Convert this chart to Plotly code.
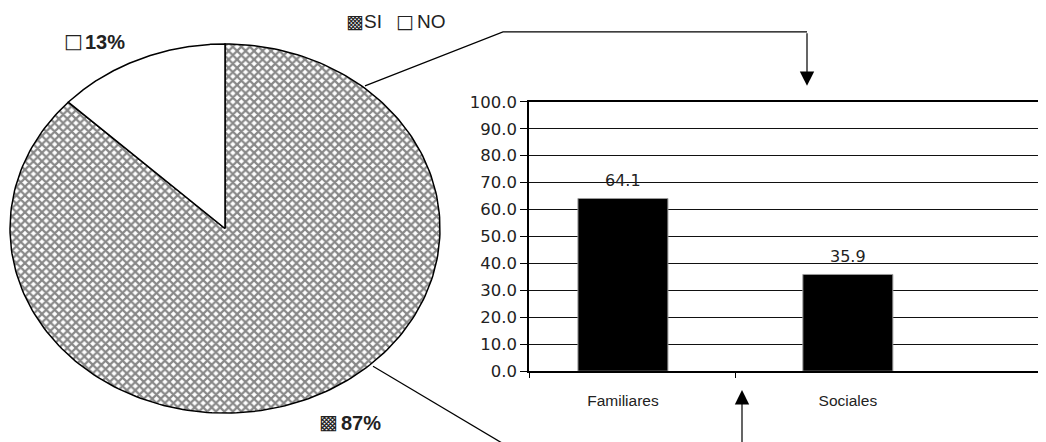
import numpy as np
import plotly.graph_objects as go

# ---- data ----
pie_labels = ["SI", "NO"]
pie_values = [87, 13]
bar_categories = ["Familiares", "Sociales"]
bar_values = [64.1, 35.9]
y_ticks = [0, 10, 20, 30, 40, 50, 60, 70, 80, 90, 100]

W, H = 1046, 442
# observed placement of the figure in the captured page
OX, OY, HH = 8, 17, 424
def px(x): return (x - OX) / W
def py(y): return 1 - (y - OY) / HH

fig = go.Figure()

# ---- elliptical pie drawn on a hidden screen-scaled axis ----
cx, cy, rx, ry = 225, 229, 215, 185
total = sum(pie_values)
starts = [0.0, pie_values[0] / total * 360]
fills = [dict(fillcolor="white",
              fillpattern=dict(shape="x", size=6, solidity=0.6,
                               fgcolor="#111", bgcolor="white")),
         dict(fillcolor="white")]
for i, (lab, v) in enumerate(zip(pie_labels, pie_values)):
    a0 = starts[i]
    a1 = a0 + v / total * 360
    th = np.radians(np.linspace(a0, a1, 240))
    xs = np.concatenate([[cx], cx + rx * np.sin(th), [cx]])
    ys = np.concatenate([[cy], cy - ry * np.cos(th), [cy]])
    fig.add_trace(go.Scatter(
        x=xs, y=-ys, mode="lines", fill="toself",
        line=dict(color="black", width=1.5),
        xaxis="x2", yaxis="y2", hoverinfo="skip", showlegend=False,
        **fills[i]))

# ---- bar chart ----
fig.add_trace(go.Bar(
    x=bar_categories, y=bar_values, width=0.4,
    marker=dict(color="black", line=dict(color="#999", width=1)),
    showlegend=False, xaxis="x", yaxis="y"))
fig.add_trace(go.Scatter(x=[0.5], y=[0], mode="markers", marker=dict(opacity=0),
                         xaxis="x3", yaxis="y", showlegend=False, hoverinfo="skip"))

xr = [-0.4176, 1.9165]
annotations = []
for c, v in zip(bar_categories, bar_values):
    annotations.append(dict(x=c, y=v, xref="x", yref="y", text=f"{v:.1f}",
                            showarrow=False, yanchor="bottom", yshift=6,
                            font=dict(family="DejaVu Sans", size=16, color="#222")))

lab_font = dict(family="Liberation Sans", size=20, color="#222")
icon_font = dict(family="DejaVu Sans", size=20, color="#222")
def txt(x, y, t, f):
    return dict(x=px(x), y=py(y), xref="paper", yref="paper", xanchor="left",
                yanchor="middle", text=t, showarrow=False, font=f)

annotations += [
    txt(62, 41, "□", icon_font),
    txt(83, 42, f"<b>{pie_values[1]}%</b>", lab_font),
    txt(317, 423, "▩", icon_font),
    txt(339, 424, f"<b>{pie_values[0]}%</b>", lab_font),
]
leg_font = dict(family="Liberation Sans", size=19, color="#222")
leg_icon = dict(family="DejaVu Sans", size=19, color="#222")
annotations += [
    txt(344, 21, "▩", leg_icon),
    txt(362, 22, pie_labels[0], leg_font),
    txt(394, 21, "□", leg_icon),
    txt(415, 22, pie_labels[1], leg_font),
]
annotations += [
    dict(x=px(807), y=py(86), xref="paper", yref="paper", ax=0, ay=-54, text="",
         showarrow=True, arrowhead=2, arrowsize=2.4, arrowwidth=1.2, arrowcolor="black",
         standoff=0),
    dict(x=px(742), y=py(391), xref="paper", yref="paper", ax=0, ay=70, text="",
         showarrow=True, arrowhead=2, arrowsize=2.4, arrowwidth=1.2, arrowcolor="black",
         standoff=0),
]

shapes = [
    dict(type="path", xref="paper", yref="paper",
         path=f"M{px(365)},{py(86)} L{px(503)},{py(32)} L{px(807)},{py(32)}",
         line=dict(color="black", width=1.2)),
    dict(type="line", xref="paper", yref="paper",
         x0=px(373), y0=py(367), x1=px(512), y1=py(450),
         line=dict(color="black", width=1.2)),
]

pie_dom = 0.46
fig.update_layout(
    width=W, height=H, margin=dict(l=0, r=0, t=0, b=0),
    paper_bgcolor="white", plot_bgcolor="white",
    xaxis=dict(domain=[px(529), 1], type="category", range=xr,
               showline=True, linecolor="black", linewidth=1.5, mirror=True,
               ticks="", showgrid=False, ticklabelstandoff=14,
               tickfont=dict(family="Liberation Sans", size=15.5, color="#222")),
    xaxis3=dict(overlaying="x", anchor="y", type="linear", range=xr,
                tickvals=[xr[0], 0.5], ticks="outside", ticklen=6, tickcolor="black",
                tickwidth=1.2, showticklabels=False, showgrid=False, zeroline=False,
                showline=False),
    yaxis=dict(domain=[py(372), py(102)], range=[0, 100], tickvals=y_ticks,
               tickformat=".1f", showline=True, linecolor="black", linewidth=1.5,
               ticks="outside", ticklen=7, tickcolor="black", tickwidth=1,
               showgrid=True, gridcolor="#111", gridwidth=1, zeroline=False,
               tickfont=dict(family="DejaVu Sans", size=16.5, color="#222")),
    xaxis2=dict(domain=[0, pie_dom], range=[OX, OX + pie_dom * W], visible=False, anchor="y2"),
    yaxis2=dict(domain=[0, 1], range=[-(OY + HH), -OY], visible=False, anchor="x2"),
    annotations=annotations, shapes=shapes, showlegend=False,
)

fig.write_html("out.html")
